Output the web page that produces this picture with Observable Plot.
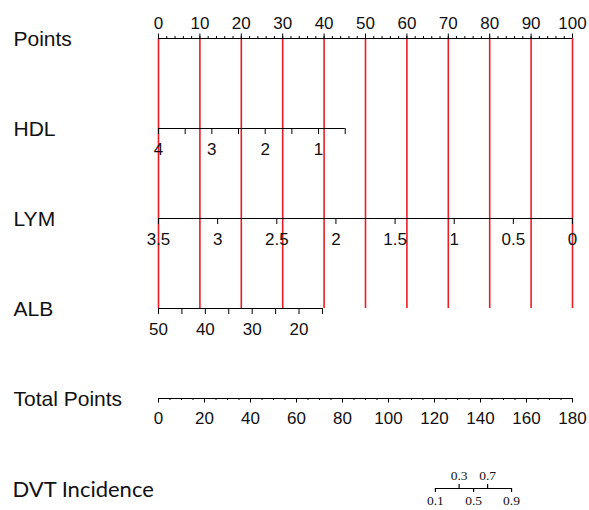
<!DOCTYPE html>
<html><head><meta charset="utf-8">
<script src="https://cdn.jsdelivr.net/npm/d3@7"></script>
<script src="https://cdn.jsdelivr.net/npm/@observablehq/plot@0.6"></script>
<style>body{margin:0;background:#fff}</style>
</head><body><div id="chart"></div>
<script>
// rows of the nomogram
const rows = ["Points", "HDL", "LYM", "ALB", "Total Points", "DVT Incidence"];

// Points axis
const pointsMajor = [0, 10, 20, 30, 40, 50, 60, 70, 80, 90, 100];
const pointsMinor = d3.range(0, 101, 2);

// HDL: value -> points (4 -> 0, 0.5 -> 45.1)
const hdlTicks = [4, 3.5, 3, 2.5, 2, 1.5, 1, 0.5];
const hdlLabels = [4, 3, 2, 1];
const hdlMap = {v0: 4, p0: 0, v1: 0.5, p1: 45.1};

// LYM: value -> points (3.5 -> 0, 0 -> 100)
const lymTicks = [3.5, 3, 2.5, 2, 1.5, 1, 0.5, 0];
const lymLabels = ["3.5", "3", "2.5", "2", "1.5", "1", "0.5", "0"];
const lymMap = {v0: 3.5, p0: 0, v1: 0, p1: 100};

// ALB: value -> points (50 -> 0, 15 -> 39.6)
const albTicks = [50, 45, 40, 35, 30, 25, 20, 15];
const albLabels = [50, 40, 30, 20];
const albMap = {v0: 50, p0: 0, v1: 15, p1: 39.6};

// Total points axis (0..180)
const totalMax = 180;
const totalMajor = [0, 20, 40, 60, 80, 100, 120, 140, 160, 180];
const totalMinor = d3.range(0, 181, 5);

// DVT incidence: probability labels and their total-point positions
const dvtProb = ["0.1", "0.3", "0.5", "0.7", "0.9"];
const dvtTotal = [120.4, 130.7, 137.0, 143.1, 153.5];

// ---- helpers ----
const lin = (m) => (v) => m.p0 + (v - m.v0) * (m.p1 - m.p0) / (m.v1 - m.v0);
const hdlP = lin(hdlMap), lymP = lin(lymMap), albP = lin(albMap);
const totP = (t) => t * 100 / totalMax;

const axisLines = [
  {row: "Points", a: 0, b: 100},
  {row: "HDL", a: hdlP(hdlTicks[0]), b: hdlP(hdlTicks[hdlTicks.length - 1])},
  {row: "LYM", a: lymP(lymTicks[0]), b: lymP(lymTicks[lymTicks.length - 1])},
  {row: "ALB", a: albP(albTicks[0]), b: albP(albTicks[albTicks.length - 1])},
  {row: "Total Points", a: 0, b: 100},
  {row: "DVT Incidence", a: totP(dvtTotal[0]), b: totP(dvtTotal[dvtTotal.length - 1])}
];

const sans = "Liberation Sans, Arial, sans-serif";
const serif = "Liberation Serif, Times New Roman, serif";
const txt = "#111";

const ticks = (vals, f, row, up, down, sw = 1) =>
  Plot.ruleX(vals, {x: f, y1: () => row, y2: () => row, insetTop: -up, insetBottom: -down,
    stroke: "#000", strokeWidth: sw});
const belowLabels = (vals, f, labels, row) =>
  Plot.text(vals, {x: f, y: () => row, text: (d, i) => String(labels[i]), lineAnchor: "bottom", dy: 26,
    fontSize: 17, fontFamily: sans, fill: txt});

const dvtIdx = d3.range(dvtProb.length);

const chart = Plot.plot({
  width: 589,
  height: 510,
  margin: 0,
  x: {domain: [0, 100], range: [158, 572], axis: null},
  y: {type: "point", domain: rows, range: [37, 488], padding: 0, axis: null},
  style: {background: "#fff"},
  marks: [
    // red reference lines
    Plot.ruleX(pointsMajor, {x: d => d, y1: () => "Points", y2: () => "ALB", stroke: "#ec1c24", strokeWidth: 1.6}),
    // axis lines
    Plot.ruleY(axisLines, {y: "row", x1: "a", x2: "b", stroke: "#000", strokeWidth: 1.1}),
    // Points axis
    ticks(pointsMinor, d => d, "Points", 2, 0),
    ticks(pointsMajor, d => d, "Points", 4.5, 0),
    Plot.text(pointsMajor, {x: d => d, y: () => "Points", text: d => String(d), lineAnchor: "bottom", dy: -10,
      fontSize: 17, fontFamily: sans, fill: txt}),
    // HDL
    ticks(hdlTicks, hdlP, "HDL", 0, 6),
    belowLabels(hdlLabels.map(hdlP), d => d, hdlLabels, "HDL"),
    // LYM
    ticks(lymTicks, lymP, "LYM", 0, 6),
    belowLabels(lymTicks.map(lymP), d => d, lymLabels, "LYM"),
    // ALB
    ticks(albTicks, albP, "ALB", 0, 6),
    belowLabels(albLabels.map(albP), d => d, albLabels, "ALB"),
    // Total points
    ticks(totalMinor, totP, "Total Points", 0, 2),
    ticks(totalMajor, totP, "Total Points", 0, 4.5),
    Plot.text(totalMajor, {x: totP, y: () => "Total Points", text: d => String(d), lineAnchor: "bottom", dy: 25,
      fontSize: 17, fontFamily: sans, fill: txt}),
    // DVT incidence
    ticks(dvtIdx.filter(i => i % 2 === 0), i => totP(dvtTotal[i]), "DVT Incidence", 0, 4, 1.2),
    ticks(dvtIdx.filter(i => i % 2 === 1), i => totP(dvtTotal[i]), "DVT Incidence", 4, 0, 1.2),
    Plot.text(dvtIdx.filter(i => i % 2 === 1), {x: i => totP(dvtTotal[i]), y: () => "DVT Incidence",
      text: i => dvtProb[i], lineAnchor: "bottom", dy: -9, fontSize: 13.5, fontFamily: serif, fill: txt}),
    Plot.text(dvtIdx.filter(i => i % 2 === 0), {x: i => totP(dvtTotal[i]), y: () => "DVT Incidence",
      text: i => dvtProb[i], lineAnchor: "bottom", dy: 16, fontSize: 13.5, fontFamily: serif, fill: txt}),
    // row labels
    Plot.text(rows.slice(0, 5), {y: d => d, text: d => d, frameAnchor: "left", dx: 13, dy: 1,
      textAnchor: "start", fontSize: 21, fontFamily: sans, fill: txt}),
    Plot.text(rows.slice(5), {y: d => d, text: d => d, frameAnchor: "left", dx: 12, dy: 1,
      textAnchor: "start", fontSize: 22, fontFamily: "Lato, Carlito, sans-serif", fill: txt})
  ]
});
document.getElementById("chart").appendChild(chart);
</script>
</body></html>
